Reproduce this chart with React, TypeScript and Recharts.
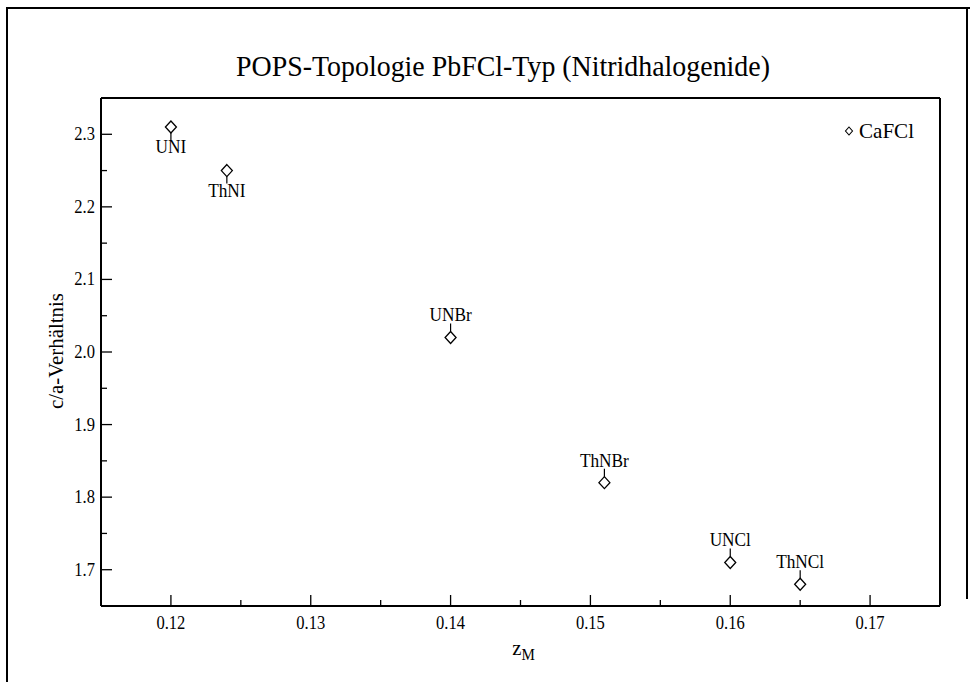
import React from 'react';
import { ScatterChart, Scatter, XAxis, YAxis, Legend, ReferenceLine } from 'recharts';

const compounds = ['UNI', 'ThNI', 'UNBr', 'ThNBr', 'UNCl', 'ThNCl'];
const zM = [0.12, 0.124, 0.14, 0.151, 0.16, 0.165];
const caRatio = [2.31, 2.25, 2.02, 1.82, 1.71, 1.68];
const xMajorTicks = [0.12, 0.13, 0.14, 0.15, 0.16, 0.17];
const xMinorTicks = [0.125, 0.135, 0.145, 0.155, 0.165];
const yMajorTicks = [1.7, 1.8, 1.9, 2.0, 2.1, 2.2, 2.3];
const yMinorTicks = [1.75, 1.85, 1.95, 2.05, 2.15, 2.25];
const xDomain = [0.115, 0.175];
const yDomain = [1.65, 2.35];
const seriesName = 'CaFCl';
const titleText = 'POPS-Topologie PbFCl-Typ (Nitridhalogenide)';
const yTitle = 'c/a-Verhältnis';
const labelsBelow = ['UNI', 'ThNI'];

const data = compounds.map((name, i) => ({ name, x: zM[i], y: caRatio[i] }));
const xTicks = [...xMajorTicks, ...xMinorTicks].sort((a, b) => a - b);
const yTicks = [...yMajorTicks, ...yMinorTicks].sort((a, b) => a - b);

const FONT = '"Liberation Serif", "Times New Roman", serif';
const isIn = (arr: number[], v: number) => arr.some((a) => Math.abs(a - v) < 1e-9);

const SText = ({ x, y, size, sx = 0.92, anchor = 'middle', children }: any) => (
  <text
    transform={`translate(${x},${y}) scale(${sx},1)`}
    x={0}
    y={0}
    textAnchor={anchor}
    fontFamily={FONT}
    fontSize={size}
    fill="#000"
  >
    {children}
  </text>
);

const XTick = (props: any) => {
  const { x, y, payload } = props;
  const v = payload.value;
  const major = isIn(xMajorTicks, v);
  return (
    <g>
      <line x1={x} x2={x} y1={y} y2={y - (major ? 11 : 6)} stroke="#000" strokeWidth={1.3} />
      {major && <SText x={x} y={y + 23} size={18}>{v.toFixed(2)}</SText>}
    </g>
  );
};

const YTick = (props: any) => {
  const { x, y, payload } = props;
  const v = payload.value;
  const major = isIn(yMajorTicks, v);
  return (
    <g>
      <line x1={x} x2={x + (major ? 11 : 6)} y1={y} y2={y} stroke="#000" strokeWidth={1.3} />
      {major && (
        <SText x={x - 6} y={y + 6} size={18} anchor="end">
          {v.toFixed(1)}
        </SText>
      )}
    </g>
  );
};

const PointShape = (props: any) => {
  const { cx, cy, payload } = props;
  const below = labelsBelow.includes(payload.name);
  return (
    <g>
      <path
        d={`M${cx},${cy - 6} L${cx + 5.5},${cy} L${cx},${cy + 6} L${cx - 5.5},${cy} Z`}
        fill="#fff"
        stroke="#000"
        strokeWidth={1.3}
      />
      {below ? (
        <>
          <line x1={cx} x2={cx} y1={cy + 6} y2={cy + 13} stroke="#000" strokeWidth={1.2} />
          <SText x={cx} y={cy + 26} size={18} sx={0.96}>{payload.name}</SText>
        </>
      ) : (
        <>
          <line x1={cx} x2={cx} y1={cy - 6} y2={cy - 14} stroke="#000" strokeWidth={1.2} />
          <SText x={cx} y={cy - 16} size={18} sx={0.96}>{payload.name}</SText>
        </>
      )}
    </g>
  );
};

const XTitle = (props: any) => {
  const vb = props.viewBox;
  const cx = vb.x + vb.width / 2 + 3;
  return (
    <text transform={`translate(${cx},655) scale(0.94,1)`} textAnchor="middle" fontFamily={FONT} fill="#000">
      <tspan fontSize={22}>z</tspan>
      <tspan fontSize={16} dy={5}>M</tspan>
    </text>
  );
};

const YTitle = () => (
  <text
    transform={`translate(63,351) rotate(-90) scale(0.95,1)`}
    textAnchor="middle"
    fontFamily={FONT}
    fontSize={22}
    fill="#000"
  >
    {yTitle}
  </text>
);

const LegendContent = () => (
  <svg width={90} height={30} style={{ display: 'block' }}>
    <path d="M6,8 L9.5,12 L6,16 L2.5,12 Z" fill="#fff" stroke="#000" strokeWidth={1.1} />
    <text transform={`translate(16,19) scale(0.98,1)`} fontFamily={FONT} fontSize={21.5} fill="#000">
      {seriesName}
    </text>
  </svg>
);

export default function App() {
  return (
    <div style={{ position: 'absolute', left: 0, top: 0, width: 975, height: 682, background: '#fff' }}>
      <div style={{ position: 'absolute', left: 6, top: 7, width: 962, height: 700, borderLeft: '2px solid #000', borderTop: '2px solid #000' }} />
      <div style={{ position: 'absolute', left: 966, top: 7, width: 2, height: 592, background: '#000' }} />
      <div
        style={{
          position: 'absolute',
          left: 0,
          top: 48,
          width: 1006,
          textAlign: 'center',
          fontFamily: FONT,
          fontSize: 30,
          lineHeight: '35px',
          color: '#000',
          whiteSpace: 'nowrap',
          transform: 'scaleX(0.93)',
          transformOrigin: '503px 0px',
        }}
      >
        {titleText}
      </div>
      <div style={{ position: 'absolute', left: 0, top: 0 }}>
        <ScatterChart width={975} height={682} margin={{ top: 98, right: 35, bottom: 46, left: 41 }}>
          <XAxis
            type="number"
            dataKey="x"
            domain={xDomain}
            ticks={xTicks}
            interval={0}
            tick={<XTick />}
            tickLine={false}
            tickSize={0}
            tickMargin={0}
            axisLine={{ stroke: '#000', strokeWidth: 2 }}
            height={30}
            allowDataOverflow
            label={(p: any) => <XTitle {...p} />}
          />
          <YAxis
            type="number"
            dataKey="y"
            domain={yDomain}
            ticks={yTicks}
            interval={0}
            tick={<YTick />}
            tickLine={false}
            tickSize={0}
            tickMargin={0}
            axisLine={{ stroke: '#000', strokeWidth: 2 }}
            width={60}
            allowDataOverflow
            label={() => <YTitle />}
          />
          <ReferenceLine y={yDomain[1]} stroke="#000" strokeWidth={2} />
          <ReferenceLine x={xDomain[1]} stroke="#000" strokeWidth={2} />
          <Legend
            layout="horizontal"
            verticalAlign="middle"
            align="center"
            content={() => <LegendContent />}
            wrapperStyle={{ position: 'absolute', left: 843, top: 119, width: 90, height: 30, right: 'auto', bottom: 'auto' }}
          />
          <Scatter name={seriesName} data={data} shape={<PointShape />} isAnimationActive={false} />
        </ScatterChart>
      </div>
    </div>
  );
}
